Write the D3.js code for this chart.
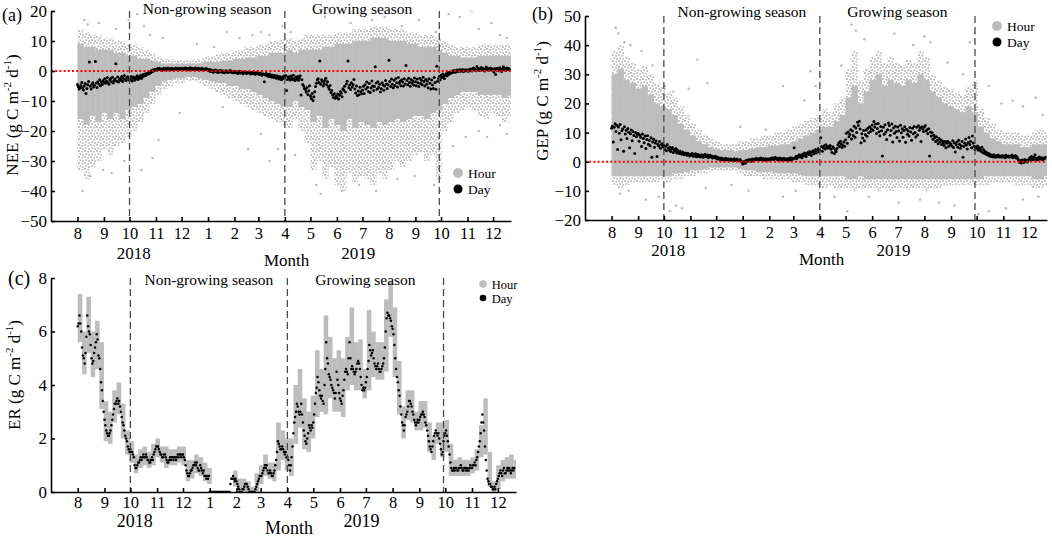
<!DOCTYPE html>
<html>
<head>
<meta charset="utf-8">
<script src="https://d3js.org/d3.v7.min.js"></script>
<style>
  body { margin: 0; background: #fff; }
  svg { display: block; font-family: "Liberation Serif", "Times New Roman", serif; }
  .axis path, .axis line { stroke: #000; stroke-width: 1.6px; }
  .axis text { font-family: "Liberation Serif", serif; fill: #000; }
</style>
</head>
<body>
<svg width="1052" height="537"></svg>
<script>
// ---- tick labels (month of each tick, Aug 2018 .. Dec 2019) ----
var monthLabels = ["8","9","10","11","12","1","2","3","4","5","6","7","8","9","10","11","12"];
var yearLabels = ["2018", "2019"];

// ---- daily NEE (g C m-2 d-1), one value per day from 1 Aug 2018 ----
var neeDay = [].concat(
  [-4.5,-5.2,-6.0,-5.5,-4.8,-3.8,-5.6,-6.3,-5.0,-4.2,-7.5,-5.8,-4.6,-3.5,3.0,-5.1,-6.0,-4.4,-3.9,-5.3,-4.8,3.2,-4.0,-5.5,-3.6,-4.3,-2.9,-4.9,-3.7,-4.5,-3.2],
  [-3.8,-2.6,-4.1,-3.3,-2.2,-3.9,-4.4,-3.0,-2.5,-3.6,-2.1,-4.0,-3.2,-2.7,2.4,-3.4,-2.0,-3.7,-2.9,-2.4,-3.1,-1.8,-3.5,-2.6,-1.5,-2.8,-3.2,-2.2,-1.9,-3.0],
  [-2.5,-2.9,-1.8,-3.3,-2.4,-2.0,-3.1,-2.7,-2.2,-1.6,-2.8,-2.3,-1.9,-1.4,-2.5,-2.0,-1.2,-1.7,-1.0,-1.5,-0.8,-1.1,-0.5,-0.9,-0.3,-0.6,0.2,-0.2,0.4,0.1,0.5],
  [0.6,0.3,0.8,0.5,0.9,0.4,0.7,0.2,0.6,0.9,0.5,0.8,0.3,0.7,1.0,0.6,0.4,0.8,0.5,0.9,0.7,0.3,0.6,1.0,0.8,0.5,0.7,0.9,0.6,0.8],
  [0.7,0.9,0.5,0.8,1.0,0.6,0.9,0.7,0.4,0.8,1.1,0.6,0.9,0.7,0.5,0.8,1.0,0.7,0.5,0.9,0.6,0.8,0.4,0.7,0.9,0.6,0.3,0.7,0.5,0.8,0.6],
  [0.4,0.1,0.5,-0.2,0.3,0.0,-0.4,0.2,-0.1,0.3,-0.3,0.0,-0.5,0.1,-0.2,0.2,-0.4,-0.1,0.0,-0.6,-0.3,0.1,-0.2,-0.5,0.0,-0.3,0.2,-0.4,-0.1,-0.6,-0.2],
  [-0.3,-0.6,-0.2,-0.5,-0.8,-0.4,-0.1,-0.7,-0.5,-0.3,-0.9,-0.6,-0.2,-0.5,-0.8,-0.4,-0.7,-0.3,-0.6,-1.0,-0.5,-0.8,-0.4,-0.7,-1.1,-0.6,-0.9,-0.5],
  [-0.8,-1.2,-0.7,-1.0,-1.4,-0.9,-1.1,-3.6,-1.3,-0.8,-1.5,-1.2,-1.8,-1.0,-1.6,-2.0,-1.3,-1.7,-2.2,-1.5,-1.9,-2.4,-1.6,-2.1,-2.7,-1.8,-2.3,-2.9,-2.0,-2.5,-1.7],
  [-2.2,-1.5,-6.5,-2.8,-1.9,-2.5,-3.0,-1.7,-2.3,-2.9,-1.4,-2.6,-3.2,-2.0,-2.7,-1.8,-3.1,-2.4,-1.6,-8.0,-2.9,-4.5,-5.0,-5.8,-6.2,-7.0,-5.5,-7.8,-6.6,-4.9],
  [-8.3,-9.2,-7.5,-9.8,-8.6,-6.9,-5.2,-4.1,-3.0,-2.6,-3.8,3.3,-4.4,-2.9,-3.5,-5.0,-4.2,-3.1,-2.4,-4.6,-3.6,-5.3,-6.1,-4.8,-7.2,-6.5,-8.0,-8.8,-7.6,-9.1,-8.4],
  [-8.9,-7.7,-9.3,-8.1,-6.8,-7.4,-8.6,-5.9,-6.4,-5.1,-7.0,-4.3,-3.4,3.3,-5.6,-4.7,-6.2,-3.9,-5.3,-4.5,-2.8,-6.0,-7.3,-5.0,-8.2,-6.7,-7.9,-5.4,-6.9,-7.6],
  [-6.3,-5.1,-7.5,-4.6,-6.0,-3.7,-5.4,-6.8,-4.2,-7.2,-5.7,-3.3,-4.9,-6.5,-5.2,1.4,-4.0,-6.1,-3.6,-5.5,-4.4,-7.0,-5.9,-3.9,-4.7,-6.4,-5.0,-3.2,-4.3,-5.8,-4.6],
  [3.6,-3.5,-5.2,-2.7,-4.4,-5.6,-3.1,-4.8,-2.5,-3.9,-5.3,-2.2,-4.1,-3.4,-4.9,-2.9,-3.7,-5.0,-2.6,-4.3,1.8,-3.2,-4.6,-2.4,-3.8,-5.1,-2.8,-4.0,-3.3,-4.7,-2.3],
  [-3.6,-4.9,-2.7,-3.9,-5.2,-2.4,-4.2,-3.1,-4.6,-2.1,-3.5,-5.0,-2.8,-4.4,-3.3,-5.6,-2.6,-4.1,-6.0,-3.0,-4.7,-5.8,-2.2,-3.8,-6.1,1.6,-3.4,-2.5,-1.8,-2.9],
  [-1.4,-2.2,-1.0,-1.8,-2.5,-1.3,-0.9,-1.6,-0.6,-1.2,-0.4,-0.8,-0.2,-0.6,0.1,-0.3,0.2,-0.4,0.0,0.3,-0.2,0.1,0.4,-0.1,0.2,0.5,-0.2,0.3,0.0,0.4,0.1],
  [0.3,-0.1,0.5,0.2,0.7,0.0,0.4,1.0,0.3,0.6,0.1,1.5,0.4,0.8,0.2,0.6,1.2,0.3,0.9,0.5,0.0,0.7,1.3,0.4,0.8,0.2,0.6,1.0,0.3,0.7],
  [0.5,-0.3,0.8,-1.2,0.4,0.9,0.1,0.6,1.1,0.3,-0.2,0.7,1.4,0.4,0.8,0.2,1.0,0.5,0.9,0.6]
);

// ---- daily GEP ----
var gepDay = [].concat(
  [11.5,12.2,6.8,11.8,13.0,10.4,12.5,4.2,11.9,9.8,12.8,7.5,10.6,11.2,3.6,12.0,9.5,10.8,8.0,11.4,10.1,4.8,9.6,10.9,7.2,10.3,9.0,2.8,10.0,8.6,9.4],
  [9.8,7.0,9.1,8.4,5.2,9.5,8.0,6.5,8.8,4.5,7.6,8.9,6.0,7.3,5.5,8.2,1.5,6.8,7.7,5.0,6.4,7.1,1.8,6.0,5.4,6.9,4.6,5.8,6.2,5.1],
  [5.6,4.2,5.3,3.8,5.9,4.7,4.0,5.0,3.5,4.4,4.9,3.2,4.1,3.7,4.5,3.0,3.9,3.4,2.8,3.6,3.1,2.6,3.3,2.9,2.4,3.0,2.7,2.2,2.9,2.5,2.0],
  [2.6,2.1,2.8,1.9,2.4,2.0,2.7,1.7,2.3,2.5,1.8,2.2,1.6,2.4,2.0,1.5,2.1,2.6,1.7,1.9,2.3,1.4,1.8,2.2,1.6,2.0,1.3,1.7,1.5,1.9],
  [1.2,1.6,0.9,1.4,1.1,0.7,1.3,0.8,1.0,0.5,0.9,1.2,0.6,0.8,1.0,0.4,0.7,0.9,0.5,0.8,0.6,1.0,0.4,0.7,0.9,0.5,0.3,0.6,0.8,0.2,0.0],
  [-0.8,-0.3,0.2,-0.5,0.4,0.1,0.6,0.3,0.8,0.5,0.2,0.9,0.6,0.4,1.0,0.7,1.2,0.8,0.5,1.0,0.7,1.3,0.9,0.6,1.1,0.8,0.5,1.0,0.7,0.9,0.6],
  [1.0,0.7,1.2,0.9,1.4,0.8,1.1,1.5,0.9,1.2,0.6,1.0,1.3,0.8,1.1,0.5,0.9,1.2,0.7,1.0,0.6,0.8,1.1,0.5,0.9,1.4,0.7,1.2],
  [0.9,4.8,1.3,1.8,1.1,2.0,1.5,2.4,1.7,2.2,1.4,2.6,2.0,3.0,2.3,1.8,2.8,3.2,2.5,3.5,2.9,2.1,3.3,3.8,2.7,3.6,4.2,3.0,3.9,4.5,3.4],
  [4.1,8.2,5.2,3.6,4.8,5.5,4.4,5.8,5.0,4.6,5.3,4.9,5.6,4.3,3.2,5.1,4.7,2.8,4.0,3.5,4.5,5.7,6.4,5.2,7.0,6.1,4.9,5.6,6.8,5.3],
  [7.5,9.8,6.3,10.2,8.6,9.4,11.0,7.8,10.5,9.0,12.2,8.4,11.6,10.0,13.5,12.4,13.9,11.2,6.5,9.6,8.1,10.7,7.2,9.3,10.9,8.7,11.5,9.9,12.0,10.4,11.3],
  [12.6,10.8,13.8,11.9,12.9,9.7,11.4,13.1,10.3,8.9,12.1,10.6,2.0,11.8,9.4,12.7,10.2,7.6,11.0,13.3,12.4,9.1,10.7,12.9,6.8,11.6,9.8,12.2,10.4,8.3],
  [11.9,10.6,7.1,12.5,9.9,11.3,8.4,10.7,12.0,6.7,11.1,9.4,10.5,8.8,11.7,10.2,7.4,11.5,9.6,12.1,10.0,8.5,11.8,9.2,12.3,10.8,11.6,6.9,12.0,11.2,10.4],
  [11.9,12.4,10.5,11.0,9.6,11.3,2.0,10.2,8.8,9.9,7.7,9.1,8.3,6.9,8.6,7.4,6.2,8.0,6.8,7.5,5.9,7.1,6.4,5.6,6.9,4.8,6.3,7.0,5.2,6.6,5.8],
  [6.1,5.4,7.2,4.9,6.5,3.3,5.8,6.8,5.0,7.4,6.0,4.6,5.5,6.9,1.5,5.2,6.3,7.8,5.7,4.4,6.6,8.3,5.9,7.0,4.8,8.8,6.4,5.3,4.2,5.0],
  [4.6,5.4,3.9,4.8,4.2,3.6,5.0,3.2,4.1,2.9,3.5,2.6,3.1,2.3,2.8,2.0,2.5,1.8,2.2,1.6,2.4,1.9,1.5,2.1,1.7,2.3,1.6,2.0,1.8,1.5,2.1],
  [1.7,1.9,1.4,2.2,1.6,1.8,2.0,1.5,1.9,1.7,2.3,1.4,1.8,1.6,2.1,1.3,1.7,1.0,0.5,-0.2,0.3,-0.4,0.6,0.1,-0.3,0.8,0.2,0.5,-0.1,0.4],
  [0.9,1.4,0.6,1.8,1.1,0.7,1.5,2.4,1.0,0.6,1.3,0.8,1.6,1.1,0.9,1.4,0.7,1.2,1.0,1.5]
);

// ---- daily ER ----
var erDay = [].concat(
  [6.2,6.3,6.6,6.3,6.0,5.4,5.1,5.0,4.8,5.2,5.8,6.6,6.2,6.0,5.9,5.5,5.0,4.8,4.9,5.2,5.4,5.6,5.9,5.7,5.1,5.0,4.6,4.1,3.8,3.4,3.0],
  [2.7,2.5,2.3,2.2,2.1,2.1,2.2,2.3,2.5,2.7,2.9,3.1,3.3,3.3,3.4,3.5,3.3,3.4,3.2,3.0,2.8,2.6,2.5,2.3,2.1,2.0,1.9,1.7,1.6,1.5],
  [1.6,1.5,1.5,1.4,1.3,1.0,0.9,0.9,1.0,1.1,1.1,1.2,1.3,1.2,1.3,1.4,1.3,1.3,1.4,1.3,1.2,1.2,1.1,1.1,1.2,1.3,1.2,1.4,1.5,1.6,1.7],
  [1.7,1.7,1.6,1.5,1.4,1.4,1.3,1.3,1.4,1.4,1.3,1.2,1.1,1.1,1.2,1.3,1.2,1.3,1.3,1.2,1.3,1.3,1.2,1.3,1.4,1.3,1.4,1.4,1.3,1.4],
  [1.4,1.3,1.2,1.0,0.8,0.7,0.6,0.6,0.7,0.8,0.8,0.9,1.0,1.0,1.1,1.0,1.1,0.9,0.8,0.8,1.0,0.9,0.8,0.7,0.8,0.6,0.6,0.5,0.6,0.5,0.6],
  [0,0,0,0,0,0,0,0,0,0,0,0,0,0,0,0,0,0,0,0,0,0,0,0,0.3,0.5,0.5,0.6,0.5,0.4,0.5],
  [0.4,0.3,0.2,0.1,0.0,0.0,0.0,0.1,0.1,0.2,0.3,0.3,0.3,0.2,0.1,0.0,0.0,0.0,0.0,0.0,0.0,0.0,0.1,0.2,0.3,0.4,0.5,0.6],
  [0.6,0.6,0.7,0.8,0.9,1.0,0.9,1.0,0.8,0.7,0.7,0.8,0.7,0.6,0.6,0.7,0.8,1.0,1.2,1.5,1.9,1.8,1.7,1.6,1.6,1.7,1.6,1.5,1.4,1.5,1.3],
  [1.3,1.2,1.0,0.8,1.0,1.3,1.7,2.2,2.6,2.8,3.0,3.3,3.2,3.0,2.9,3.0,3.3,2.9,2.6,2.3,2.1,1.9,1.8,2.0,2.2,2.5,2.4,2.3,2.5,2.4],
  [2.6,2.9,3.3,3.7,3.9,4.3,4.1,3.8,3.6,3.5,3.6,3.4,3.3,4.0,4.6,5.6,5.0,4.8,4.4,4.3,4.2,4.0,3.9,3.8,3.7,3.5,3.7,4.5,4.2,4.0,3.7],
  [3.5,3.4,3.3,3.6,3.8,4.2,4.5,4.6,4.5,4.4,5.0,5.6,5.0,4.6,4.7,4.6,4.5,4.4,4.5,4.6,4.8,4.9,4.8,4.6,4.3,4.0,3.8,3.9,3.8,3.9],
  [4.1,4.3,4.6,4.9,5.5,5.3,5.1,5.2,5.3,5.0,4.8,4.7,4.6,4.7,4.8,4.6,4.5,4.5,4.6,4.7,4.8,5.0,5.4,6.0,6.5,6.7,6.6,6.6,6.5,6.4,6.2],
  [6.1,5.9,5.5,5.0,4.6,4.3,4.1,3.8,3.6,3.2,2.9,2.6,2.5,2.3,2.5,2.8,2.9,3.0,3.2,3.4,3.4,3.3,3.2,3.0,2.9,2.7,2.6,2.5,2.6,2.7,2.6],
  [2.7,2.8,2.9,2.9,3.0,2.9,2.8,2.6,2.5,2.3,2.1,1.9,1.7,1.6,1.5,1.7,1.9,2.1,2.2,2.3,2.2,2.1,2.2,2.0,1.8,1.6,1.4,1.5,1.9,2.1],
  [2.2,2.3,2.1,1.9,1.7,1.4,1.1,0.9,0.8,0.8,0.9,0.8,0.9,0.9,0.8,0.8,0.9,0.9,1.0,0.9,0.8,0.8,0.9,0.9,0.8,0.9,0.8,0.8,0.9,1.0,0.9],
  [0.9,1.0,1.0,1.1,1.0,1.2,1.3,1.5,1.7,1.9,2.2,2.6,2.9,2.6,2.3,1.7,1.2,0.8,0.5,0.4,0.3,0.3,0.2,0.2,0.1,0.1,0.2,0.1,0.3,0.4],
  [0.5,0.6,0.7,0.8,0.7,0.6,0.8,0.9,0.7,0.7,0.8,0.9,0.8,0.9,0.8,0.7,0.8,0.9,0.8,0.9]
);

// ---- hourly NEE spread, one entry per week from 1 Aug 2018 (dense core / sparse outer) ----
var neeCoreHi = [9,8,8,7,7,7,6,6,5,5, 4,4,3.5,3,2.5,2.5,2.5,2.5,2.5,2.5, 2.5,3,3,3,3.5,3.5,4,4,4.5,4.5, 5,5,6,6,6,7,6,7,7,7, 7,8,8,9,9,9,10,10,10,11, 11,11,10,10,10,9,9,8,8,8, 7,6,5,5,4.5,4.5,4.5,5,5,5, 5,5,5];
var neeCoreLo = [-16,-18,-15,-17,-14,-16,-14,-16,-13,-12, -11,-9,-7,-5,-3.5,-3,-2.5,-2.5,-2,-2, -2.5,-3,-3.5,-4,-4,-5,-5,-6,-6,-7, -8,-9,-10,-11,-12,-12,-10,-12,-13,-17, -15,-19,-16,-18,-20,-16,-19,-17,-18,-19, -17,-18,-17,-16,-17,-16,-15,-15,-16,-14, -13,-11,-9,-8,-7,-7,-7,-8,-8,-8, -8,-9,-8];
var neeOutHi = [14,13,12,12,11,11,10,10,9,9, 8,7,6,5,4,4,3.5,3.5,3.5,3.5, 4,5,5,5.5,6,6,7,7,8,8, 9,9,10,10,11,11,10,11,12,12, 12,12,12,13,13,13,14,14,14,15, 15,15,14,14,14,13,13,12,12,12, 11,10,9,8,8,8,8,9,9,9, 9,9,9];
var neeOutLo = [-33,-36,-32,-30,-26,-28,-25,-24,-22,-20, -17,-14,-11,-8,-6,-5,-4,-4,-3.5,-3.5, -4,-5,-6,-7,-8,-9,-10,-11,-12,-13, -14,-15,-16,-17,-18,-19,-16,-20,-24,-33, -30,-36,-32,-38,-40,-34,-37,-35,-36,-38, -34,-36,-33,-30,-32,-30,-28,-27,-30,-28, -36,-20,-17,-14,-13,-12,-13,-15,-16,-14, -15,-17,-15];
// scattered hourly NEE values outside the spread: [day since 1 Aug 2018, value]
var neeHourStray = [[8,17],[12,15.5],[25,16],[45,14],[60,17],[70,19],[78,15],[85,12],[100,11],[140,9],[160,8],[175,13],[190,11],[205,12],[215,13],[225,12],[240,15],[250,13],[290,18],[320,16],[345,17],[360,18],[380,15],[400,17],[420,13],[435,19],[448,18],[462,20],[470,14],[485,16],[495,12],[503,11],
  [6,-40],[15,-35],[30,-33],[40,-34],[55,-30],[75,-33],[88,-29],[95,-23],[120,-14],[170,-12],[200,-26],[215,-21],[225,-30],[235,-26],[255,-28],[280,-38],[285,-41],[310,-40],[330,-38],[350,-40],[375,-36],[395,-35],[418,-38],[425,-40],[440,-25],[455,-22],[470,-20],[480,-22],[495,-18],[503,-21]];

// ---- hourly GEP spread, weekly ----
var gepCoreHi = [30,32,28,27,25,26,23,20,19,18, 16,13,11,9,7,6,5,4.5,4,4, 3.5,4,4,4.5,5,5,5.5,5.5,6,6, 7,8,9,10,11,12,12,14,16,22, 26,20,24,28,30,26,28,27,26,28, 27,30,28,24,22,20,19,18,17,19, 17,12,10,8,7,6,6,6,5,5, 6,6,6];
var gepCoreLo = [-5,-5,-5,-5,-5,-5,-5,-5,-5,-5, -4,-4,-3.5,-3,-3,-2.5,-2,-2,-2,-2, -2,-2.5,-3,-3,-3.5,-3.5,-3.5,-4,-4,-4, -4,-4.5,-5,-5,-5,-5,-5,-5,-5,-6, -6,-5,-6,-6,-6,-6,-6,-6,-6,-6, -6,-6,-6,-6,-6,-6,-6,-6,-6,-6, -6,-6,-5,-5,-5,-5,-5,-5,-5,-5, -6,-6,-5];
var gepOutHi = [38,40,36,34,32,33,30,27,26,24, 22,19,16,13,11,9,8,7,6,6, 6,7,7,8,8,9,9,10,10,11, 12,13,14,15,16,18,17,20,22,32, 38,28,32,36,38,34,36,34,33,35, 34,38,36,30,28,26,25,24,23,26, 28,18,15,13,11,10,10,10,9,9, 10,11,10];
var gepOutLo = [-8,-9,-8,-7,-7,-7,-7,-7,-6,-7, -6,-6,-5,-5,-4,-4,-3.5,-3,-3,-3, -3,-4,-5,-5,-5,-6,-6,-6,-6,-6, -7,-7,-8,-8,-8,-9,-8,-9,-9,-9, -10,-9,-9,-9,-10,-9,-10,-9,-9,-9, -9,-9,-10,-9,-9,-8,-8,-8,-8,-8, -8,-8,-8,-7,-7,-7,-7,-8,-8,-8, -9,-9,-8];
var gepHourStray = [[5,46],[8,44],[15,41],[22,40],[35,38],[48,33],[62,26],[72,24],[90,25],[100,35],[112,27],[150,12],[180,11],[200,26],[225,21],[232,31],[238,26],[268,33],[280,47],[285,45],[295,42],[318,49],[330,44],[352,40],[365,43],[372,41],[392,34],[410,30],[418,41],[424,44],[440,26],[455,20],[468,21],[480,19],[495,22],[503,16],
  [10,-11],[20,-10],[40,-13],[55,-12],[68,-17],[75,-15],[82,-16],[110,-9],[140,-8],[160,-10],[200,-12],[215,-10],[260,-12],[275,-17],[300,-12],[335,-14],[360,-13],[382,-14],[400,-15],[428,-18],[440,-17],[460,-16],[480,-13],[498,-12]];

// ---- hourly ER spread, one entry per 5 days ----
var erHourLo = [5.6,4.4,5.2,4.3,4.6,3.1,1.9,1.8,2.6,2.9, 2.0,1.4,1.1,0.7,0.9,1.0,0.9,1.0,1.3,1.1, 0.9,1.0,1.0,1.1,1.0,0.4,0.5,0.7,0.6,0.4, 0.3,null,null,null,null,null,0.2,0,0,0, 0,0,0.3,0.6,0.5,0.4,0.8,1.2,0.8,0.6, 1.8,2.4,1.6,1.5,2.0,2.8,3.0,2.9,3.5,3.0, 3.0,2.8,3.8,4.0,3.8,3.8,3.5,3.8,4.3,4.2, 4.2,4.5,5.8,4.3,2.9,2.0,2.7,2.6,2.3,2.3, 2.4,1.5,1.2,1.8,1.3,1.5,0.6,0.6,0.6,0.6, 0.6,0.7,0.8,1.3,1.4,0.2,0.0,0.1,0.4,0.5, 0.5,0.5];
var erHourHi = [7.4,6.0,7.3,6.0,6.4,5.6,3.4,3.0,3.8,4.1, 3.3,2.3,1.9,1.4,1.6,1.7,1.5,1.8,2.0,1.7, 1.7,1.6,1.6,1.7,1.7,1.2,1.2,1.4,1.3,1.1, 0.9,null,null,null,null,null,0.8,0.5,0.5,0.4, 0.2,0.7,1.0,1.4,1.1,1.1,2.6,2.3,2.0,2.0, 4.0,4.6,3.5,3.0,3.6,5.3,4.6,6.6,5.8,5.0, 5.3,5.0,5.8,6.9,5.6,5.7,4.6,6.8,6.0,5.6, 5.6,7.2,7.9,6.9,4.9,3.2,3.8,3.8,3.0,3.4, 3.4,2.6,2.1,2.6,2.6,2.7,1.8,1.2,1.3,1.2, 1.2,1.3,1.6,2.5,3.5,1.5,0.4,1.0,1.2,1.3, 1.4,1.2];

// season boundaries
var seasonBreaks = [new Date(2018, 9, 1), new Date(2019, 3, 1), new Date(2019, 8, 29)];

var hourColor = "#bdbdbd";
var t0 = new Date(2018, 6, 1), t1 = new Date(2019, 11, 22);
var monthTicks = monthLabels.map(function (d, i) { return new Date(2018, 7 + i, 1); });
function dayDate(i) { return new Date(2018, 7, 1 + i); }

var svg = d3.select("svg");
var defs = svg.append("defs");
// speckle texture standing in for the sparse part of the hourly cloud
var pat = defs.append("pattern").attr("id", "speck")
    .attr("width", 6).attr("height", 6).attr("patternUnits", "userSpaceOnUse");
[[1, 1], [4.2, 1.8], [2.3, 4.1], [5.2, 5]].forEach(function (c) {
    pat.append("circle").attr("cx", c[0]).attr("cy", c[1]).attr("r", 1.05).attr("fill", hourColor);
});

function superLabel(sel, name) {
    sel.append("tspan").text(name + " (g C m");
    sel.append("tspan").attr("font-size", 11).attr("dy", -7).text("-2");
    sel.append("tspan").attr("dy", 7).text(" d");
    sel.append("tspan").attr("font-size", 11).attr("dy", -7).text("-1");
    sel.append("tspan").attr("dy", 7).text(")");
}

function panel(p) {
    var x = d3.scaleTime().domain([t0, t1]).range([p.left, p.right]);
    var y = d3.scaleLinear().domain(p.yDomain).range([p.bottom, p.top]);
    var g = svg.append("g");

    defs.append("clipPath").attr("id", "clip-" + p.id).append("rect")
        .attr("x", p.left).attr("y", p.top)
        .attr("width", p.right - p.left).attr("height", p.bottom - p.top);
    var plot = g.append("g").attr("clip-path", "url(#clip-" + p.id + ")");

    function bands(lo, hi, span, fill) {
        var rows = lo.map(function (v, i) { return {i: i, lo: v, hi: hi[i]}; })
            .filter(function (d) { return d.lo != null; });
        plot.append("g").selectAll("rect").data(rows).enter().append("rect")
            .attr("x", function (d) { return x(dayDate(d.i * span)); })
            .attr("width", function (d) { return x(dayDate(d.i * span + span)) - x(dayDate(d.i * span)) + 0.3; })
            .attr("y", function (d) { return y(d.hi); })
            .attr("height", function (d) { return Math.max(0.8, y(d.lo) - y(d.hi)); })
            .attr("fill", fill);
    }
    if (p.outLo) bands(p.outLo, p.outHi, p.span, "url(#speck)");
    bands(p.coreLo, p.coreHi, p.span, hourColor);

    if (p.stray) {
        plot.append("g").selectAll("circle").data(p.stray).enter().append("circle")
            .attr("cx", function (d) { return x(dayDate(d[0])); })
            .attr("cy", function (d) { return y(d[1]); })
            .attr("r", 1.3).attr("fill", hourColor);
    }

    g.append("g").selectAll("line").data(seasonBreaks).enter().append("line")
        .attr("x1", function (d) { return x(d); }).attr("x2", function (d) { return x(d); })
        .attr("y1", p.top).attr("y2", p.bottom)
        .attr("stroke", "#4a4a4a").attr("stroke-width", 1.3).attr("stroke-dasharray", "7,4");

    if (p.zeroLine) {
        g.append("line").attr("x1", p.left).attr("x2", p.right)
            .attr("y1", y(0)).attr("y2", y(0))
            .attr("stroke", "#ff0000").attr("stroke-width", 2).attr("stroke-dasharray", "2,2.2");
    }

    plot.append("g").selectAll("circle").data(p.day).enter().append("circle")
        .attr("cx", function (d, i) { return x(dayDate(i)); })
        .attr("cy", function (d) { return y(d); })
        .attr("r", p.dotR).attr("fill", "#000");

    g.append("g").attr("class", "axis")
        .attr("transform", "translate(0," + p.bottom + ")")
        .call(d3.axisBottom(x).tickValues(monthTicks)
            .tickFormat(function (d, i) { return monthLabels[i]; })
            .tickSizeInner(-4).tickSizeOuter(0).tickPadding(p.xPad))
        .selectAll("text").attr("font-size", 16.5);

    g.append("g").attr("class", "axis")
        .attr("transform", "translate(" + p.left + ",0)")
        .call(d3.axisLeft(y).tickValues(p.yTicks)
            .tickSizeInner(-4).tickSizeOuter(0).tickPadding(4))
        .selectAll("text").attr("font-size", 17);

    // year and axis titles
    g.append("text").attr("x", x(new Date(2018, 9, 6))).attr("y", p.yearY)
        .attr("text-anchor", "middle").attr("font-size", p.titleFont).text(yearLabels[0]);
    g.append("text").attr("x", x(new Date(2019, 5, 26))).attr("y", p.yearY)
        .attr("text-anchor", "middle").attr("font-size", p.titleFont).text(yearLabels[1]);
    g.append("text").attr("x", x(new Date(2019, 3, 3))).attr("y", p.monthY)
        .attr("text-anchor", "middle").attr("font-size", p.titleFont).text("Month");

    var yl = g.append("text")
        .attr("transform", "translate(" + p.ylabX + "," + p.ylabY + ") rotate(-90)")
        .attr("text-anchor", "middle").attr("font-size", 17);
    superLabel(yl, p.name);

    g.append("text").attr("x", p.tagX).attr("y", p.tagY)
        .attr("font-size", p.tagSize).text(p.tag);

    g.append("text").attr("x", (x(seasonBreaks[0]) + x(seasonBreaks[1])) / 2).attr("y", p.seasonY)
        .attr("text-anchor", "middle").attr("font-size", 15.5).text("Non-growing season");
    g.append("text").attr("x", (x(seasonBreaks[1]) + x(seasonBreaks[2])) / 2).attr("y", p.seasonY)
        .attr("text-anchor", "middle").attr("font-size", 15.5).text("Growing season");

    // legend
    var lg = g.append("g").attr("transform", "translate(" + p.legX + "," + p.legY + ")");
    lg.append("circle").attr("cx", 0).attr("cy", 0).attr("r", p.legR).attr("fill", hourColor);
    lg.append("circle").attr("cx", 0).attr("cy", p.legGap).attr("r", p.legR - 0.5).attr("fill", "#000");
    lg.append("text").attr("x", p.legR + 5).attr("y", 4.5).attr("font-size", p.legFont).text("Hour");
    lg.append("text").attr("x", p.legR + 5).attr("y", p.legGap + 4.5).attr("font-size", p.legFont).text("Day");
}

panel({
    id: "a", name: "NEE", tag: "(a)", tagX: 2, tagY: 21, tagSize: 18,
    left: 51, right: 511, top: 11, bottom: 221,
    yDomain: [-50, 20], yTicks: [-50, -40, -30, -20, -10, 0, 10, 20],
    day: neeDay, dotR: 1.5, span: 7,
    coreLo: neeCoreLo, coreHi: neeCoreHi, outLo: neeOutLo, outHi: neeOutHi,
    stray: neeHourStray, zeroLine: true,
    xPad: 6, yearY: 259, monthY: 266, titleFont: 17, ylabX: 18, ylabY: 115, seasonY: 14,
    legX: 458, legY: 173, legR: 5, legGap: 16, legFont: 13.5
});

panel({
    id: "b", name: "GEP", tag: "(b)", tagX: 532, tagY: 20, tagSize: 18,
    left: 585, right: 1047, top: 16, bottom: 220,
    yDomain: [-20, 50], yTicks: [-20, -10, 0, 10, 20, 30, 40, 50],
    day: gepDay, dotR: 1.5, span: 7,
    coreLo: gepCoreLo, coreHi: gepCoreHi, outLo: gepOutLo, outHi: gepOutHi,
    stray: gepHourStray, zeroLine: true,
    xPad: 6, yearY: 256, monthY: 265, titleFont: 17, ylabX: 548, ylabY: 101, seasonY: 17,
    legX: 997, legY: 26, legR: 5, legGap: 16, legFont: 13.5
});

panel({
    id: "c", name: "ER", tag: "(c)", tagX: 8, tagY: 285, tagSize: 20,
    left: 51, right: 516, top: 278, bottom: 492,
    yDomain: [0, 8], yTicks: [0, 2, 4, 6, 8],
    day: erDay, dotR: 1.25, span: 5,
    coreLo: erHourLo, coreHi: erHourHi,
    stray: null, zeroLine: false,
    xPad: 4, yearY: 527, monthY: 534, titleFont: 18, ylabX: 20, ylabY: 375, seasonY: 285,
    legX: 483, legY: 284, legR: 3.8, legGap: 14, legFont: 12.5
});
</script>
</body>
</html>
